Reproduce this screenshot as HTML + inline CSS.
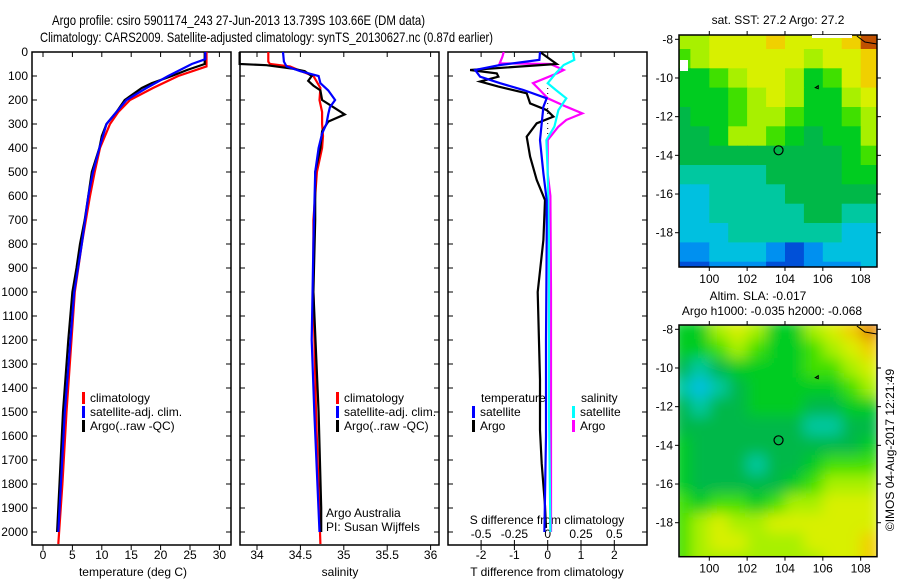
<!DOCTYPE html>
<html><head><meta charset="utf-8"><style>
body{margin:0;background:#fff;}
svg{display:block;font-family:"Liberation Sans",sans-serif;}
</style></head><body>
<svg id="c" width="900" height="580" viewBox="0 0 900 580">
<text x="52" y="25" font-size="14" textLength="373" lengthAdjust="spacingAndGlyphs">Argo profile: csiro 5901174_243 27-Jun-2013 13.739S 103.66E (DM data)</text>
<text x="40" y="42" font-size="14" textLength="453" lengthAdjust="spacingAndGlyphs">Climatology: CARS2009. Satellite-adjusted climatology: synTS_20130627.nc (0.87d earlier)</text>
<g id="g"></g>
</svg>
<script>
// ---------- data ----------
const depthTicks=[0,100,200,300,400,500,600,700,800,900,1000,1100,1200,1300,1400,1500,1600,1700,1800,1900,2000];
const tempTicks=[0,5,10,15,20,25,30];
const salTicks=[34,34.5,35,35.5,36];
const tdiffTicks=[-2,-1,0,1,2];
const sdiffTicks=[-0.5,-0.25,0,0.25,0.5];
const sdiffLabels=["-0.5","-0.25","0","0.25","0.5"];

const tClimDepth=[0,60,100,150,200,250,300,400,500,600,800,1000,1500,1800,2050];
const tClim=[27.8,27.8,23,18.7,14.8,12.8,11.4,9.7,8.8,8,6.6,5.4,4.0,3.3,2.6];
const tSatDepth=[0,30,50,100,150,200,250,300,400,500,600,800,1000,1500,2000];
const tSat=[27.6,27.6,25.3,21.3,17.6,14.2,12.5,10.8,9.6,8.5,7.7,6.6,5.3,3.7,2.6];
const tArgoDepth=[0,50,75,100,130,150,200,250,300,350,400,500,600,700,800,900,1000,1200,1500,1800,2000];
const tArgo=[27.5,27.5,24.5,21.9,18.5,16.8,13.9,12.5,10.8,10,9.6,8.3,7.7,7.1,6.3,5.7,5.0,4.3,3.4,2.8,2.4];

const sClimDepth=[0,40,50,60,80,100,150,200,250,300,350,400,500,700,1000,1500,2050];
const sClim=[34.13,34.13,34.15,34.38,34.51,34.65,34.73,34.72,34.75,34.75,34.76,34.75,34.69,34.65,34.65,34.68,34.73];
const sSatDepth=[0,40,60,80,100,130,160,200,230,260,300,340,400,500,800,1200,1500,2000];
const sSat=[34.30,34.31,34.34,34.5,34.71,34.73,34.82,34.9,34.84,34.82,34.80,34.75,34.71,34.67,34.65,34.63,34.66,34.72];
const sArgoDepth=[0,50,55,70,80,100,120,140,160,200,230,260,290,330,400,500,700,1000,1500,1900,2000];
const sArgo=[33.8,33.8,34.11,34.42,34.55,34.63,34.59,34.65,34.73,34.75,34.88,35.01,34.82,34.75,34.73,34.67,34.67,34.65,34.71,34.74,34.74];

const dTSatDepth=[0,33,54,75,103,130,158,193,228,367,506,617,783,1200,1600,2000];
const dTSat=[-0.23,-0.25,-1.43,-2.18,-2.03,-1.43,-0.74,-0.03,-0.13,-0.23,-0.13,-0.03,-0.03,-0.05,-0.05,-0.1];
const dTArgoDepth=[0,40,50,75,89,103,123,144,172,214,242,269,297,353,436,533,617,783,1000,1366,1575,1715,1890,1983];
const dTArgo=[-0.23,0.17,0.27,-2.33,-1.53,-1.48,-2.03,-1.48,-0.63,-0.53,-0.03,0.17,-0.33,-0.63,-0.53,-0.33,-0.08,-0.13,-0.3,-0.23,-0.23,-0.18,-0.08,-0.05];
const dSArgoDepth=[0,20,47,50,75,89,130,158,193,228,256,283,311,367,506,600,1000,2000];
const dSArgo=[-0.33,-0.34,-0.36,0.02,0.12,0.07,-0.11,-0.06,0.0,0.14,0.26,0.14,0.08,0.0,0.0,0.02,0.025,0.025];
const dSSatDepth=[0,33,54,89,130,158,193,242,311,367,506,800,1500,2000];
const dSSat=[0.19,0.2,0.12,0.06,0.0,0.06,0.14,0.08,0.05,-0.01,0.0,0.01,0.01,0.02];

const mapLon=[98.5,99.5,100.5,101.5,102.5,103.5,104.5,105.5,106.5,107.5,108.5];
const mapLat=[-8,-9,-10,-11,-12,-13,-14,-15,-16,-17,-18,-19,-20];
const sstGrid=[
[7,7,8,8,8,9,8,8,8,9,11],
[6,7,8,8,8,8,8,7,8,8,9],
[5,5,6,7,8,8,7,5,6,8,9],
[5,5,5,6,7,8,7,5,5,7,8],
[4,5,5,6,7,7,6,5,5,6,7],
[4,4,5,7,7,6,5,4,5,5,7],
[4,4,4,4,4,4,4,4,4,5,6],
[3,3,3,3,3,4,4,4,4,5,5],
[2,2,3,3,3,3,4,4,4,4,4],
[2,2,3,3,3,3,3,4,4,3,3],
[2,2,2,3,3,3,3,3,3,2,2],
[1,1,2,2,2,1,0,1,2,2,2],
[0,0,1,1,1,0,0,1,1,1,2]];
const slaGrid=[
[5,5,7,8,7,5,5,7,8,9,10],
[5,5,6,7,6,5,5,6,7,8,9],
[4,3,4,5,5,5,5,6,6,7,8],
[3,2,3,4,5,5,5,5,5,6,7],
[4,3,4,4,5,5,5,4,4,5,5],
[4,4,4,4,4,4,4,3,3,4,4],
[5,4,4,4,4,4,4,4,4,4,5],
[5,4,4,4,3,4,4,5,6,6,6],
[5,4,4,4,4,4,5,6,7,7,7],
[6,5,6,6,5,6,7,7,8,8,8],
[6,7,8,7,7,8,8,8,8,8,8],
[6,7,8,8,7,7,7,8,8,8,9],
[6,7,7,7,7,7,7,7,8,8,9]];
const lonTicks=[100,102,104,106,108];
const latTicks=[-8,-10,-12,-14,-16,-18];
const argoLon=103.66, argoLat=-13.739;
const palette=["#0050d8","#0090f0","#00c0e0","#00c8a0","#00b848","#00cc20","#40e000","#a8f000","#d8f000","#f0d000","#e08000","#c05000"];

// ---------- drawing ----------
const NS="http://www.w3.org/2000/svg";
const G=document.getElementById('g');
function mk(tag,attrs,parent){const e=document.createElementNS(NS,tag);for(const k in attrs)e.setAttribute(k,attrs[k]);(parent||G).appendChild(e);return e;}
function txt(x,y,s,size,anchor,parent){const t=mk('text',{x:x,y:y,'font-size':size||12,'text-anchor':anchor||'start'},parent);t.textContent=s;return t;}

const TOP=52,BOT=545;
const yD=d=>TOP+d*0.24;
const panels=[
 {x0:32,x1:231,f:v=>43+v*5.88},
 {x0:240,x1:439,f:v=>257+(v-34)*86.8},
 {x0:448,x1:647,f:v=>547.7+v*33.3}
];
const fS=v=>547.7+v*133.2;

panels.forEach((p,i)=>{
  const r=mk('rect',{x:p.x0,y:TOP,width:p.x1-p.x0,height:BOT-TOP,fill:'none',stroke:'#000','stroke-width':1.5});
  
  
  depthTicks.forEach(d=>{
    mk('line',{x1:p.x0,x2:p.x0+5,y1:yD(d),y2:yD(d),stroke:'#000'});
    mk('line',{x1:p.x1-5,x2:p.x1,y1:yD(d),y2:yD(d),stroke:'#000'});
  });
});
depthTicks.forEach(d=>{
  const t=txt(28,yD(d)+4,String(d),12,'end');
  
  
});
function xticks(p,ticks,labels,ybase,fn){
  ticks.forEach((v,i)=>{
    const x=fn(v);
    mk('line',{x1:x,x2:x,y1:BOT,y2:BOT+5,stroke:'#000'});
    mk('line',{x1:x,x2:x,y1:TOP,y2:TOP+5,stroke:'#000'});
    const t=txt(x,ybase,labels[i],12,'middle');
    
    
  });
}
xticks(panels[0],tempTicks,tempTicks.map(String),559,panels[0].f);
xticks(panels[1],salTicks,salTicks.map(String),559,panels[1].f);
xticks(panels[2],tdiffTicks,tdiffTicks.map(String),559,panels[2].f);
sdiffTicks.forEach((v,i)=>{
  const x=fS(v);
  mk('line',{x1:x,x2:x,y1:BOT-5,y2:BOT,stroke:'#000'});
  const t=txt(x,538,sdiffLabels[i],12,'middle');
  
  
});
let t;
t=txt(133,576,'temperature (deg C)',12,'middle');
t=txt(340,576,'salinity',12,'middle');
t=txt(547,576,'T difference from climatology',12,'middle');
t=txt(547,524,'S difference from climatology',12,'middle');

// zero dotted line
mk('line',{x1:547.7,x2:547.7,y1:yD(150),y2:yD(420),stroke:'#000','stroke-dasharray':'1 4'});

function series(depths,vals,fx,color,name){
  const pts=depths.map((d,i)=>fx(vals[i]).toFixed(1)+','+yD(d).toFixed(1)).join(' ');
  const pl=mk('polyline',{points:pts,fill:'none',stroke:color,'stroke-width':2.2,'stroke-linejoin':'miter'});
  
  
}
series(tClimDepth,tClim,panels[0].f,'#f00','temp-climatology-line');
series(tArgoDepth,tArgo,panels[0].f,'#000','temp-argo-line');
series(tSatDepth,tSat,panels[0].f,'#00f','temp-satellite-line');
series(sClimDepth,sClim,panels[1].f,'#f00','sal-climatology-line');
series(sArgoDepth,sArgo,panels[1].f,'#000','sal-argo-line');
series(sSatDepth,sSat,panels[1].f,'#00f','sal-satellite-line');
series(dSArgoDepth,dSArgo,fS,'#f0f','sdiff-argo-line');
series(dSSatDepth,dSSat,fS,'#0ff','sdiff-satellite-line');
series(dTArgoDepth,dTArgo,panels[2].f,'#000','tdiff-argo-line');
series(dTSatDepth,dTSat,panels[2].f,'#00f','tdiff-satellite-line');

function legendEntry(x,y,color,label,name){
  const g=mk('g',{});
  
  
  mk('rect',{x:x,y:y-10,width:3,height:12,fill:color},g);
  txt(x+8,y,label,12,'start',g);
}
legendEntry(82,402,'#f00','climatology','legend-climatology');
legendEntry(82,416,'#00f','satellite-adj. clim.','legend-satellite-adj');
legendEntry(82,430,'#000','Argo(..raw -QC)','legend-argo');
legendEntry(336,402,'#f00','climatology','legend-sal-climatology');
legendEntry(336,416,'#00f','satellite-adj. clim.','legend-sal-satellite-adj');
legendEntry(336,430,'#000','Argo(..raw -QC)','legend-sal-argo');
t=txt(481,402,'temperature',12);
t=txt(581,402,'salinity',12);
legendEntry(472,416,'#00f','satellite','legend-tdiff-satellite');
legendEntry(472,430,'#000','Argo','legend-tdiff-argo');
legendEntry(572,416,'#0ff','satellite','legend-sdiff-satellite');
legendEntry(572,430,'#f0f','Argo','legend-sdiff-argo');
t=txt(326,517,'Argo Australia',12);
t=txt(326,531,'PI: Susan Wijffels',12);

// ---------- maps ----------
function drawMap(id,grid,top,bot,latTop,latRef18,blur,title1,title2){
  const x0=679,x1=877;
  const lx=lon=>709.3+(lon-100)*18.92;
  const ly=lat=>latTop+(lat+8)*(-(latRef18-latTop)/10)*-1;
  const g=mk('g',{});
  
  
  const defs=mk('defs',{},g);
  const cp=mk('clipPath',{id:id+'-clip'},defs);
  mk('rect',{x:x0,y:top,width:x1-x0,height:bot-top},cp);
  if(blur){const f=mk('filter',{id:id+'-blur'},defs);mk('feGaussianBlur',{stdDeviation:7},f);}
  const cg=mk('g',{'clip-path':'url(#'+id+'-clip)'},g);
  const inner=mk('g',blur?{filter:'url(#'+id+'-blur)'}:{},cg);
  const dy=(latRef18-latTop)/10;
  grid.forEach((row,r)=>row.forEach((v,c)=>{
    const cx=lx(mapLon[c]), cy=latTop+(-8-mapLat[r])*dy;
    const cell=mk('rect',{x:(cx-9.46-(blur?0:0)).toFixed(1),y:(cy-dy/2).toFixed(1),width:19.5,height:(dy+0.5).toFixed(1),fill:palette[v]},inner);
    
    
  }));
  mk('rect',{x:x0,y:top,width:x1-x0,height:bot-top,fill:'none',stroke:'#000','stroke-width':1.5},g);
  lonTicks.forEach(l=>{
    const x=lx(l);
    mk('line',{x1:x,x2:x,y1:top-4,y2:top,stroke:'#000'},g);
    mk('line',{x1:x,x2:x,y1:bot,y2:bot+4,stroke:'#000'},g);
    txt(x,bot+16,String(l),12,'middle',g);
  });
  latTicks.forEach(l=>{
    const y=latTop+(-8-l)*dy;
    mk('line',{x1:x0-4,x2:x0,y1:y,y2:y,stroke:'#000'},g);
    mk('line',{x1:x1,x2:x1+4,y1:y,y2:y,stroke:'#000'},g);
    txt(x0-6,y+4,String(l),12,'end',g);
  });
  const ay=latTop+(-8-argoLat)*dy;
  const m=mk('circle',{cx:lx(argoLon),cy:ay,r:4.5,fill:'none',stroke:'#000','stroke-width':1.2},g);
  
  
  mk('path',{d:'M'+(lx(105.6))+' '+(latTop+2.5*dy)+' l3 -2 l0 3 z',fill:'none',stroke:'#000'},g);
  mk('path',{d:'M'+(lx(107.8))+' '+(top+1)+' l8 6 l12 2',fill:'none',stroke:'#000'},g);
}
drawMap('sst-map',sstGrid,35,267,39.3,232.7,false);
drawMap('sla-map',slaGrid,325,556.7,329.3,522.7,true);
// white gap in SST map
mk('rect',{x:680,y:60,width:8,height:11,fill:'#fff'});
mk('rect',{x:812,y:35,width:40,height:3,fill:'#fff'});
t=txt(778,24,'sat. SST: 27.2 Argo: 27.2',12,'middle');
t=txt(758,300,'Altim. SLA: -0.017',12,'middle');
t=txt(772,315,'Argo h1000: -0.035 h2000: -0.068',12,'middle');
t=txt(0,0,'©IMOS 04-Aug-2017 12:21:49',12,'middle');
t.setAttribute('transform','translate(894,450) rotate(-90)');

</script>
</body></html>
